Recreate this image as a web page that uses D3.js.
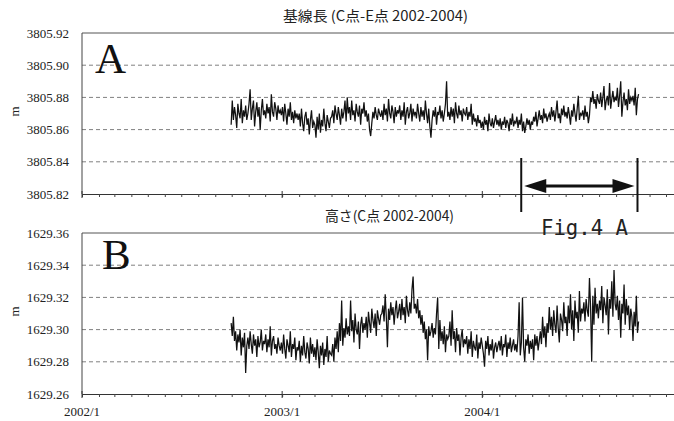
<!DOCTYPE html>
<html>
<head>
<meta charset="utf-8">
<script src="https://cdn.jsdelivr.net/npm/d3@7"></script>
<style>
  body { margin: 0; background: #fff; }
  svg { display: block; background: #fff; }
  .serif { font-family: "Liberation Serif", "Times New Roman", serif; }
</style>
</head>
<body>
<svg id="chart" width="674" height="421"></svg>
<script>
// Observation window of the GPS solutions
const seriesStart = "2002-09-30";
const seriesEnd = "2004-10-12";

// Baseline length C-E, millimetres above 3805.800 m (about every two days)
const baselineMm = [
  63,78,66,74,69,61,76,70,67,79,64,72,68,75,66,
  70,76,85,66,73,78,62,71,77,68,74,60,72,79,69,
  72,67,76,70,74,65,82,71,68,77,73,66,75,70,72,
  69,74,65,76,70,63,73,68,77,66,71,64,72,67,70,
  66,70,62,73,64,59,68,71,63,67,57,66,72,61,65,
  63,55,68,60,70,58,66,62,73,64,59,69,65,61,67,
  68,72,64,75,70,66,74,69,63,73,67,71,78,65,80,
  70,74,66,78,69,72,65,76,71,68,75,63,73,70,77,
  68,72,65,70,60,56,64,71,67,74,69,66,73,70,68,
  72,66,76,69,73,65,79,70,67,75,71,64,74,68,72,
  70,75,66,72,68,77,63,71,74,67,70,76,65,73,69,
  71,67,76,70,65,74,68,72,66,78,70,64,73,62,55,
  66,72,68,74,63,71,69,75,67,72,65,70,76,90,68,
  71,66,74,68,73,64,77,70,67,75,69,72,65,73,70,
  69,74,66,71,68,76,63,70,65,67,62,69,64,66,61,
  65,60,68,63,66,59,70,64,62,67,61,65,69,63,66,
  62,67,60,65,63,68,61,66,64,59,67,63,70,62,65,
  64,68,61,66,63,70,59,65,58,62,67,63,66,60,65,
  63,68,65,71,62,67,72,66,69,64,73,67,70,65,68,
  70,66,74,68,72,65,71,78,67,70,64,73,69,75,68,
  71,67,74,69,63,72,68,76,70,65,73,81,66,70,69,
  72,66,75,68,71,64,69,80,77,84,76,79,73,82,78,
  76,83,74,80,87,72,78,81,75,89,73,79,84,77,80,
  78,86,74,81,90,68,77,83,75,79,72,85,76,80,78,
  81,75,86,69,79,82
];

// Height of point C, millimetres above 1629.200 m
const heightMm = [
  104,96,108,93,99,87,97,92,100,84,95,89,98,73,90,
  95,88,99,91,85,97,90,94,83,96,89,92,100,87,93,
  91,97,86,94,89,102,84,93,96,88,91,85,95,90,87,
  92,85,97,88,82,94,90,86,99,83,91,88,95,81,89,
  87,93,80,90,84,96,86,82,92,88,79,95,85,91,83,
  89,81,94,86,76,90,84,92,78,88,83,96,80,87,85,
  84,91,80,95,88,99,86,104,93,118,90,101,95,107,97,
  102,96,118,99,106,92,110,100,97,105,88,103,108,98,104,
  100,108,95,111,104,98,113,106,101,110,96,112,107,103,109,
  110,115,105,122,108,89,113,106,117,109,114,103,112,118,107,
  111,116,106,119,109,114,104,121,112,108,117,110,125,133,113,
  116,110,119,107,112,103,109,98,105,94,100,81,102,96,99,
  104,95,101,97,110,120,88,106,93,99,91,102,86,97,94,
  96,105,90,112,94,99,86,101,93,97,84,95,100,89,94,
  91,96,85,94,88,99,83,93,89,87,97,82,92,88,95,
  90,85,77,93,88,96,84,91,87,94,82,89,92,86,90,
  93,87,96,84,91,89,97,83,92,88,95,86,90,94,87,
  91,86,96,117,84,92,120,89,80,94,90,97,85,93,88,
  94,81,97,90,96,87,93,99,91,108,95,102,89,104,98,
  114,100,108,96,112,103,98,115,101,92,110,106,99,117,104,
  108,96,115,104,122,100,112,93,118,107,111,98,124,105,113,
  110,117,105,119,112,108,132,114,80,121,103,126,110,116,107,
  118,112,127,104,120,115,109,125,97,119,113,130,108,137,116,
  112,121,106,118,95,116,110,128,103,119,109,115,100,113,108,
  93,111,102,121,98,105
];

const baselineTicks = [3805.82, 3805.84, 3805.86, 3805.88, 3805.90, 3805.92];
const heightTicks = [1629.26, 1629.28, 1629.30, 1629.32, 1629.34, 1629.36];
const yearLabels = ["2002/1", "2003/1", "2004/1"];
const titleA = "基線長 (C点-E点 2002-2004)";
const titleB = "高さ(C点 2002-2004)";

const svg = d3.select("#chart");
const parse = d3.timeParse("%Y-%m-%d");
const t0 = parse(seriesStart), t1 = parse(seriesEnd);

const left = 82, right = 683;
const x = d3.scaleTime()
  .domain([new Date(2002, 0, 1), new Date(2005, 0, 1)])
  .range([left, right]);

function toSeries(mm, base) {
  const n = mm.length;
  return mm.map((v, i) => ({
    date: new Date(+t0 + (t1 - t0) * i / (n - 1)),
    value: base + v / 1000
  }));
}

function panel(opts) {
  const y = d3.scaleLinear()
    .domain([opts.ticks[0], opts.ticks[opts.ticks.length - 1]])
    .range([opts.bottom, opts.top]);
  const g = svg.append("g");

  // horizontal grid: dashed, with the top edge drawn solid
  g.selectAll("line.grid")
    .data(opts.ticks.slice(1))
    .join("line")
    .attr("class", "grid")
    .attr("x1", left).attr("x2", right)
    .attr("y1", d => y(d)).attr("y2", d => y(d))
    .attr("stroke", (d, i, a) => i === a.length - 1 ? "#555" : "#808080")
    .attr("stroke-width", 1)
    .attr("stroke-dasharray", (d, i, a) => i === a.length - 1 ? null : "4,3");

  // y labels
  const yAxis = d3.axisLeft(y)
    .tickValues(opts.ticks)
    .tickFormat(d3.format(".2f"))
    .tickSize(0)
    .tickPadding(13);
  const ya = g.append("g").attr("transform", `translate(${left},0)`).call(yAxis);
  ya.attr("font-family", null).attr("font-size", null);
  ya.select(".domain").remove();
  ya.selectAll("text")
    .attr("class", "serif")
    .style("font-size", "13px")
    .attr("fill", "#222");

  // left axis line
  g.append("line")
    .attr("x1", left).attr("x2", left)
    .attr("y1", y(opts.ticks[opts.ticks.length - 1])).attr("y2", opts.bottom)
    .attr("stroke", "#444").attr("stroke-width", 1);

  // bottom axis with monthly ticks
  const xa = g.append("g").attr("transform", `translate(0,${opts.bottom})`)
    .call(d3.axisBottom(x).ticks(d3.timeMonth.every(1)).tickSizeInner(3).tickSizeOuter(0).tickFormat(""));
  xa.select(".domain").attr("stroke", "#333");
  xa.selectAll(".tick line").attr("stroke", "#444");

  // year ticks cross the axis
  const years = x.ticks(d3.timeYear.every(1));
  g.selectAll("line.year")
    .data(years)
    .join("line")
    .attr("class", "year")
    .attr("x1", d => x(d)).attr("x2", d => x(d))
    .attr("y1", opts.bottom - 3).attr("y2", opts.bottom + 4)
    .attr("stroke", "#333");

  if (opts.labels) {
    g.selectAll("text.year")
      .data(years.slice(0, opts.labels.length))
      .join("text")
      .attr("class", "serif")
      .attr("x", d => x(d)).attr("y", opts.bottom + 22)
      .attr("text-anchor", "middle")
      .style("font-size", "13px")
      .attr("fill", "#222")
      .text((d, i) => opts.labels[i]);
  }

  // unit label
  const my = (opts.top + opts.bottom) / 2 - 2;
  g.append("text")
    .attr("class", "serif")
    .attr("transform", `translate(19,${my}) rotate(-90)`)
    .attr("text-anchor", "middle")
    .style("font-size", "13px")
    .attr("fill", "#222")
    .text("m");

  // title
  g.append("text")
    .attr("x", opts.titleX).attr("y", opts.titleY)
    .style("font-family", "'Noto Sans CJK JP', sans-serif")
    .style("font-size", "14px")
    .attr("fill", "#222")
    .attr("textLength", opts.titleW)
    .attr("lengthAdjust", "spacingAndGlyphs")
    .text(opts.title);

  // panel letter
  g.append("text")
    .attr("class", "serif")
    .attr("x", opts.letterX).attr("y", opts.letterY)
    .style("font-size", "43px")
    .attr("fill", "#111")
    .text(opts.letter);

  // the series
  const data = toSeries(opts.mm, opts.base);
  g.append("path")
    .datum(data)
    .attr("fill", "none")
    .attr("stroke", "#111")
    .attr("stroke-width", 1.25)
    .attr("stroke-linejoin", "miter")
    .attr("d", d3.line().x(d => x(d.date)).y(d => y(d.value)));

  return y;
}

panel({
  ticks: baselineTicks, top: 33, bottom: 194, mm: baselineMm, base: 3805.8,
  title: titleA, titleX: 283, titleY: 21, titleW: 185,
  letter: "A", letterX: 95, letterY: 73
});

panel({
  ticks: heightTicks, top: 233, bottom: 394, mm: heightMm, base: 1629.2,
  title: titleB, titleX: 325, titleY: 221, titleW: 129,
  letter: "B", letterX: 102, letterY: 269, labels: yearLabels
});

// Marked period: vertical bounds with a double-headed arrow
const markStart = parse("2004-03-12"), markEnd = parse("2004-10-10");
const ann = svg.append("g");
[markStart, markEnd].forEach(d => {
  ann.append("line")
    .attr("x1", x(d)).attr("x2", x(d))
    .attr("y1", 158).attr("y2", 212)
    .attr("stroke", "#111").attr("stroke-width", 2);
});
const ay = 186, xa0 = x(markStart) + 3, xa1 = x(markEnd) - 3, head = 22;
ann.append("line")
  .attr("x1", xa0 + head - 2).attr("x2", xa1 - head + 2)
  .attr("y1", ay).attr("y2", ay)
  .attr("stroke", "#111").attr("stroke-width", 3);
ann.append("path")
  .attr("d", `M${xa0},${ay} L${xa0 + head},${ay - 7} L${xa0 + head},${ay + 7} Z`)
  .attr("fill", "#111");
ann.append("path")
  .attr("d", `M${xa1},${ay} L${xa1 - head},${ay - 7} L${xa1 - head},${ay + 7} Z`)
  .attr("fill", "#111");

ann.append("text")
  .attr("x", 541).attr("y", 235)
  .style("font-family", "'DejaVu Sans Mono', monospace")
  .style("font-size", "21px")
  .attr("fill", "#222")
  .attr("textLength", 87)
  .attr("lengthAdjust", "spacingAndGlyphs")
  .text("Fig.4 A");
</script>
</body>
</html>
